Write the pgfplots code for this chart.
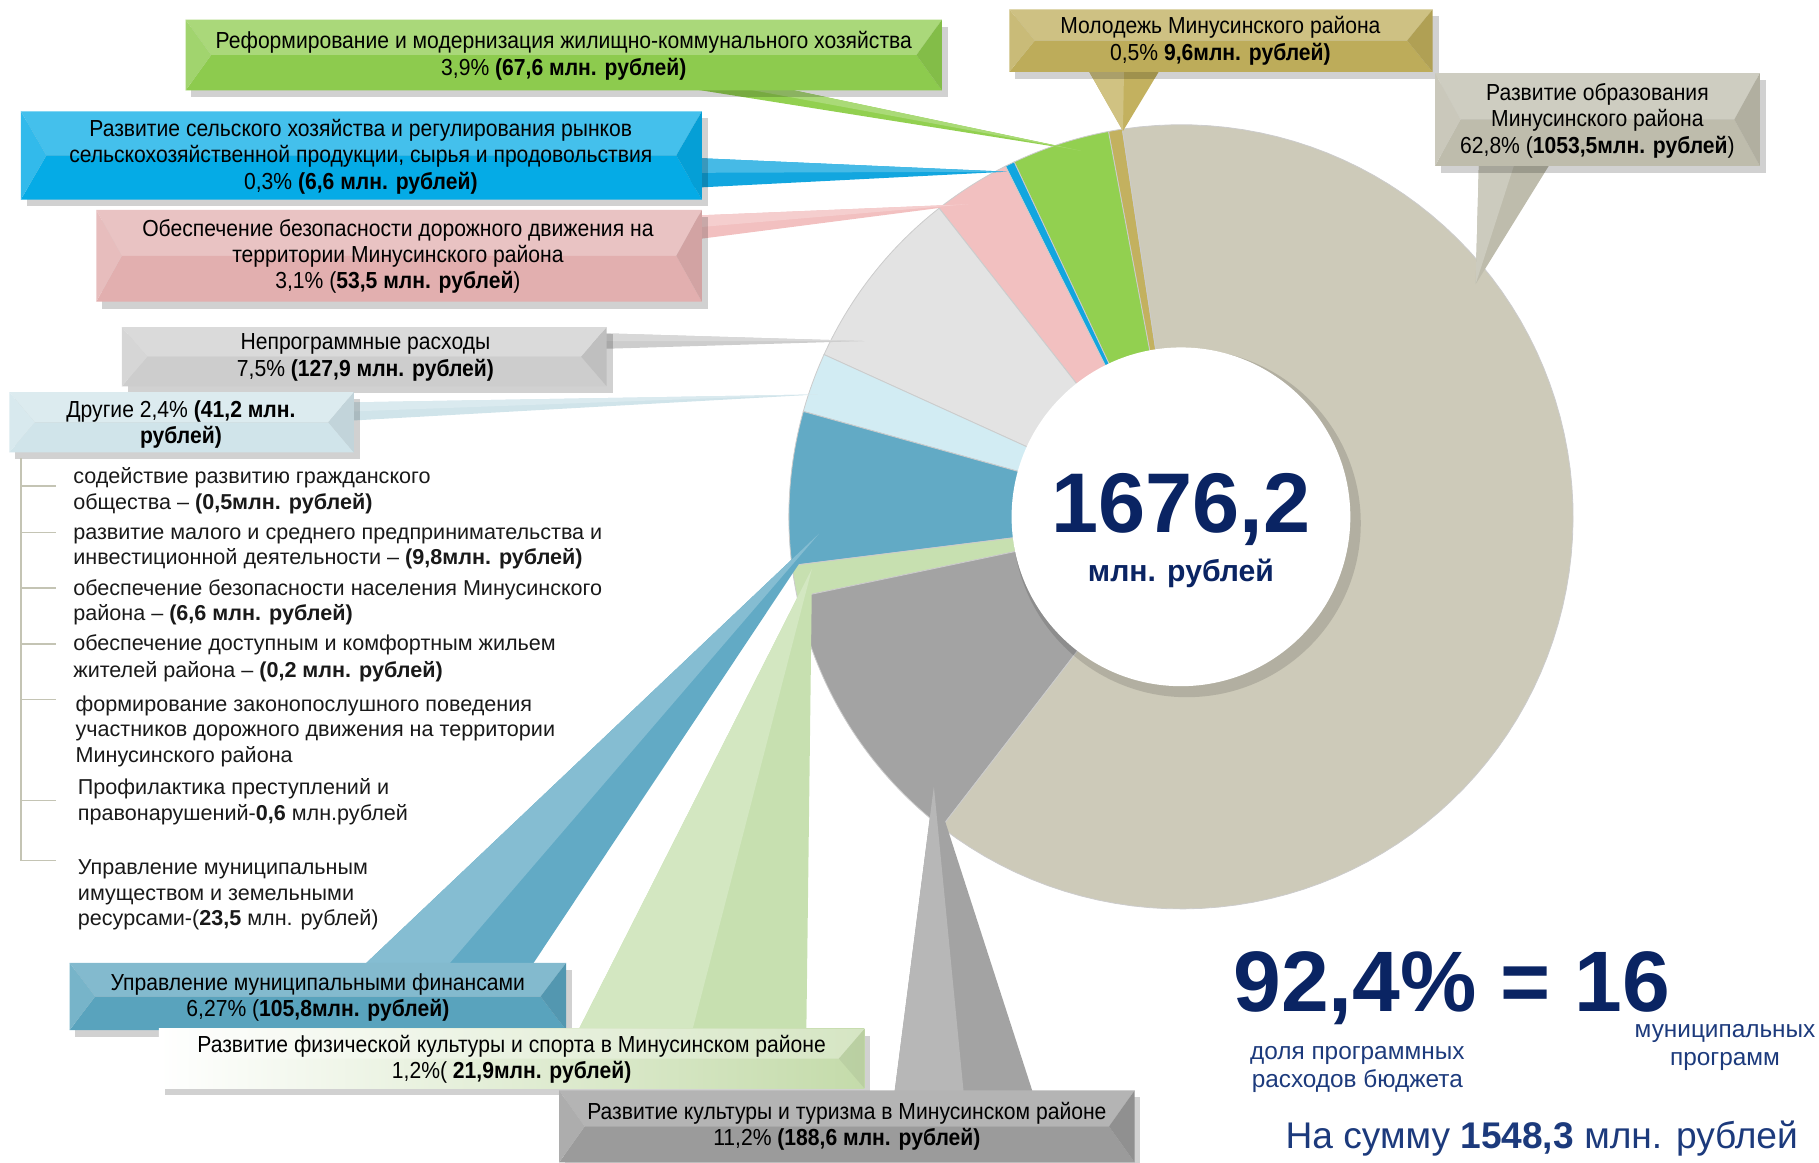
\documentclass[border=0pt]{standalone}
\usepackage{fontspec}
\setmainfont{Liberation Sans}
\newfontfamily\nf[FakeStretch=0.91]{Liberation Sans}
\usepackage{pgfplots}
\pgfplotsset{compat=1.18}
% slice colours
\definecolor{cEdu}{HTML}{CDCAB9}
\definecolor{cCult}{HTML}{A3A3A3}
\definecolor{cSport}{HTML}{C7E0B0}
\definecolor{cFin}{HTML}{62AAC5}
\definecolor{cOther}{HTML}{D2ECF3}
\definecolor{cNon}{HTML}{E3E3E3}
\definecolor{cRoad}{HTML}{F2C0C0}
\definecolor{cAgro}{HTML}{12A6DF}
\definecolor{cHouse}{HTML}{92D050}
\definecolor{cYouth}{HTML}{C3B15F}
% box colours
\definecolor{bEdu}{HTML}{BEBCAC}
\definecolor{bCult}{HTML}{9B9B9B}
\definecolor{bSport}{HTML}{C4DBAA}
\definecolor{bFin}{HTML}{59A3BD}
\definecolor{bOther}{HTML}{D0E4EA}
\definecolor{bNon}{HTML}{CDCDCD}
\definecolor{bRoad}{HTML}{E2AFAF}
\definecolor{bAgro}{HTML}{05ABE6}
\definecolor{bHouse}{HTML}{8DCB4E}
\definecolor{bYouth}{HTML}{BDAC5A}
\definecolor{navy}{HTML}{0A2463}
\definecolor{navyb}{HTML}{1C3A7C}
\definecolor{listline}{HTML}{C4C4B4}

\def\cx{1018}\def\cy{445.5}\def\R{338}\def\Tot{1676.2}
\gdef\angA{98.6}
\newcommand\slice[2]{%
  \pgfmathsetmacro\angB{\angA+#1/\Tot*360}%
  \edef\doslice{\noexpand\addplot[fill=#2, draw=black!20, line width=0.7pt, domain=\angA:\angB, samples=90, variable=\noexpand\t] ({\cx+\R*cos(\noexpand\t)},{\cy-\R*sin(\noexpand\t)}) -- (axis cs:\cx,\cy) -- cycle;}%
  \doslice
  \global\let\angA\angB
}
\newcommand\bbox[5]{%
  \fill[black,opacity=0.18] ({#1+5},{#2+6}) rectangle ({#3+5},{#4+6});
  \fill[#5!75!white] (#1,#2) -- (#3,#2) -- ({#3-22},{(#2+#4)/2}) -- ({#1+22},{(#2+#4)/2}) -- cycle;
  \fill[#5] (#1,#4) -- (#3,#4) -- ({#3-22},{(#2+#4)/2}) -- ({#1+22},{(#2+#4)/2}) -- cycle;
  \fill[#5!82!white] (#1,#2) -- ({#1+22},{(#2+#4)/2}) -- (#1,#4) -- cycle;
  \fill[#5!93!black] (#3,#2) -- ({#3-22},{(#2+#4)/2}) -- (#3,#4) -- cycle;
}
\newcommand\ptr[7]{%
  \fill[#7] (#1,#2) -- (#3,#4) -- (#5,#6) -- cycle;
  \fill[#7!78!white] (#1,#2) -- ({(#1+#3)/2},{(#2+#4)/2}) -- (#5,#6) -- cycle;
}
\pgfdeclareradialshading{disc}{\pgfpoint{0bp}{0bp}}{color(0bp)=(white); color(40bp)=(white); color(47bp)=(black!5); color(50bp)=(black!14)}
\tikzset{bt/.style={align=center, inner sep=0pt, text=black, font=\nf\fontsize{20}{22.8}\selectfont},
  lt/.style={anchor=base west, inner sep=0pt, text=black!90, font=\fontsize{18.6}{22}\selectfont}}

\begin{document}
\begin{tikzpicture}
\begin{axis}[scale only axis, width=1568pt, height=1002pt,
  xmin=0, xmax=1568, ymin=0, ymax=1002, y dir=reverse,
  hide axis, clip=false]
% values in млн. рублей, counter-clockwise from the top
\slice{9.6}{cYouth}
\slice{67.6}{cHouse}
\slice{6.6}{cAgro}
\slice{53.5}{cRoad}
\slice{127.9}{cNon}
\slice{41.2}{cOther}
\slice{105.8}{cFin}
\slice{21.9}{cSport}
\slice{188.6}{cCult}
\slice{1053.5}{cEdu}
\coordinate (O) at (axis cs:0,0);
\coordinate (E) at (axis cs:1568,1002);
\end{axis}

\begin{scope}[shift={(O)}, x=1pt, y=-1pt]
% pointers
\ptr{935}{55}{1003}{55}{968}{113}{cYouth}
\ptr{1275}{135}{1340}{135}{1272}{245}{bEdu}
\ptr{590}{58}{580}{74}{932}{130}{cHouse}
\ptr{595}{136}{595}{162}{868}{148}{cAgro}
\ptr{595}{186}{595}{207}{835}{176}{cRoad}
\ptr{510}{287}{510}{301}{745}{294}{bNon}
\ptr{295}{347}{295}{363}{705}{340}{bOther}
\ptr{300}{845}{450}{845}{706}{460}{cFin}
\ptr{495}{895}{695}{895}{700}{490}{cSport}
\ptr{770}{950}{893}{950}{805}{678}{cCult}

% boxes
\bbox{160}{17}{812}{78}{bHouse}
\bbox{870}{8}{1235}{62}{bYouth}
\bbox{1237}{63}{1517}{143}{bEdu}
\bbox{18}{96}{605}{172}{bAgro}
\bbox{83}{181}{605}{260}{bRoad}
\bbox{105}{282}{523}{333}{bNon}
\bbox{8}{338}{305}{390}{bOther}
\bbox{60}{830}{488}{888}{bFin}
% sport box: white to green
\fill[black,opacity=0.18] (142,893) rectangle (750,944);
\shade[left color=white, right color=bSport] (137,887) rectangle (745,938);
\fill[white,opacity=0.3] (137,887) -- (745,887) -- (723,912.5) -- (159,912.5) -- cycle;
\fill[black,opacity=0.05] (745,887) -- (723,912.5) -- (745,938) -- cycle;
\bbox{482}{940}{978}{1002}{bCult}

% box texts
\node[bt] at (486,48) {Реформирование и модернизация жилищно-коммунального хозяйства\\3,9\% \textbf{(67,6 млн. рублей)}};
\node[bt] at (1052,35) {Молодежь Минусинского района\\0,5\% \textbf{9,6млн. рублей)}};
\node[bt] at (1377,104) {Развитие образования\\Минусинского района\\62,8\% (\textbf{1053,5млн. рублей})};
\node[bt] at (311,135) {Развитие сельского хозяйства и регулирования рынков\\сельскохозяйственной продукции, сырья и продовольствия\\0,3\% \textbf{(6,6 млн. рублей)}};
\node[bt] at (343,221) {Обеспечение безопасности дорожного движения на\\территории Минусинского района\\3,1\% (\textbf{53,5 млн. рублей})};
\node[bt] at (315,308) {Непрограммные расходы\\7,5\% \textbf{(127,9 млн. рублей)}};
\node[bt] at (156,366) {Другие 2,4\% \textbf{(41,2 млн.}\\\textbf{рублей)}};
\node[bt] at (274,860) {Управление муниципальными финансами\\6,27\% (\textbf{105,8млн. рублей)}};
\node[bt] at (441,913) {Развитие физической культуры и спорта в Минусинском районе\\1,2\%( \textbf{21,9млн. рублей)}};
\node[bt] at (730,971) {Развитие культуры и туризма в Минусинском районе\\11,2\% \textbf{(188,6 млн. рублей)}};

% list of "Другие"
\draw[listline, line width=1.2pt] (18,395) -- (18,742);
\foreach \yy in {419,459,507,555,603,690,742} \draw[listline, line width=1.2pt] (18,\yy) -- (48,\yy);
\node[lt] at (63,417) {содействие развитию гражданского};
\node[lt] at (63,439) {общества – \textbf{(0,5млн. рублей)}};
\node[lt] at (63,465) {развитие малого и среднего предпринимательства и};
\node[lt] at (63,487) {инвестиционной деятельности – \textbf{(9,8млн. рублей)}};
\node[lt] at (63,513) {обеспечение безопасности населения Минусинского};
\node[lt] at (63,535) {района – \textbf{(6,6 млн. рублей)}};
\node[lt] at (63,561) {обеспечение доступным и комфортным жильем};
\node[lt] at (63,584) {жителей района – \textbf{(0,2 млн. рублей)}};
\node[lt] at (65,613) {формирование законопослушного поведения};
\node[lt] at (65,635) {участников дорожного движения на территории};
\node[lt] at (65,657) {Минусинского района};
\node[lt] at (67,685) {Профилактика преступлений и};
\node[lt] at (67,707) {правонарушений-\textbf{0,6} млн.рублей};
\node[lt] at (67,754) {Управление муниципальным};
\node[lt] at (67,776) {имуществом и земельными};
\node[lt] at (67,798) {ресурсами-(\textbf{23,5} млн. рублей)};

% centre disc
\fill[black,opacity=0.13] (1023,451) circle (150pt);
\shade[shading=disc] (1018,445.5) circle (146pt);
\node[anchor=base, inner sep=0pt, text=navy, font=\bfseries\fontsize{73}{80}\selectfont] at (1018,459) {1676,2};
\node[anchor=base, inner sep=0pt, text=navy, font=\bfseries\fontsize{26}{30}\selectfont] at (1018,501) {млн. рублей};

% bottom-right summary
\node[anchor=base west, inner sep=0pt, text=navy, font=\bfseries\fontsize{74}{80}\selectfont] at (1063,872) {92,4\% = 16};
\node[align=center, inner sep=0pt, text=navyb, font=\fontsize{21}{24.5}\selectfont] at (1170,922) {доля программных\\расходов бюджета};
\node[align=center, inner sep=0pt, text=navyb, font=\fontsize{21}{24.5}\selectfont] at (1487,903) {муниципальных\\программ};
\node[anchor=base west, inner sep=0pt, text=navyb, font=\fontsize{32}{38}\selectfont] at (1108,990) {На сумму \textbf{1548,3} млн. рублей};
\end{scope}
\pgfresetboundingbox
\useasboundingbox (O) rectangle (E);
\end{tikzpicture}
\end{document}
